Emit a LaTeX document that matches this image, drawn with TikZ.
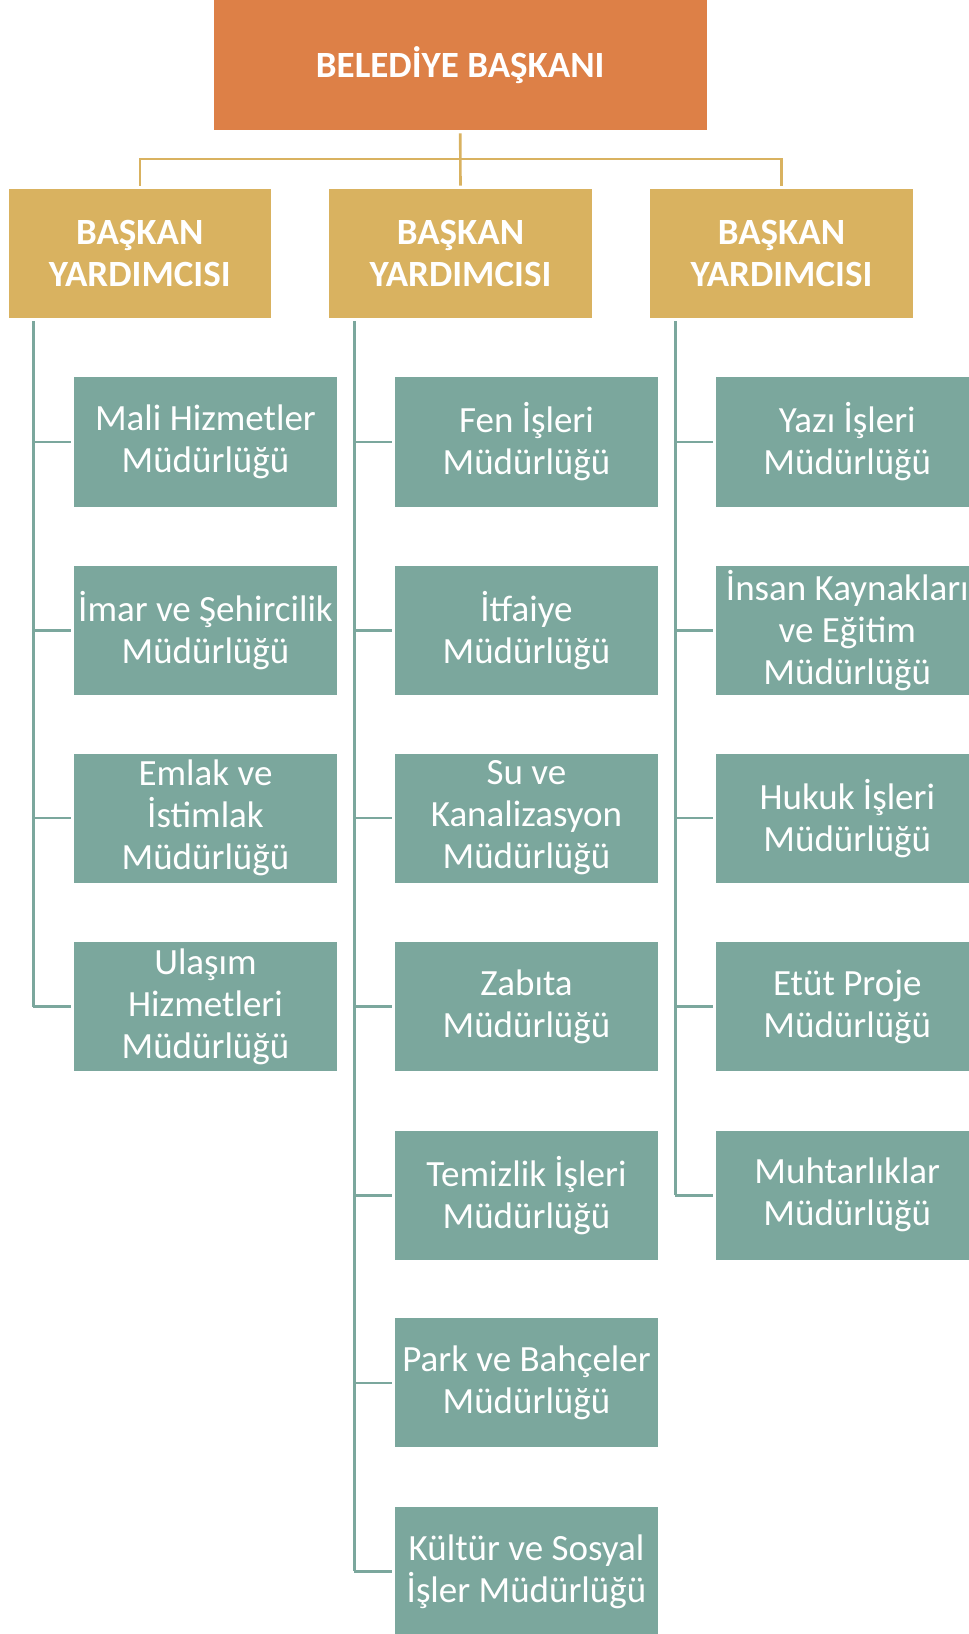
\documentclass[tikz,border=0pt]{standalone}
\usepackage{fontspec}
\setmainfont{Carlito}
\definecolor{cOrange}{HTML}{DD8047}
\definecolor{cGold}{HTML}{D9B260}
\definecolor{cTeal}{HTML}{7BA79D}
\begin{document}
\begin{tikzpicture}[x=1pt,y=-1pt,
  basebox/.style={rectangle, inner sep=0pt, anchor=north west, align=center, text=white},
  topbox/.style={basebox, fill=cOrange, minimum width=492.8pt, minimum height=130pt, font=\bfseries\fontsize{37}{42}\selectfont},
  vpbox/.style={basebox, fill=cGold, minimum width=262.6pt, minimum height=129.2pt, font=\bfseries\fontsize{37}{42}\selectfont},
  depbox/.style={basebox, fill=cTeal, minimum width=262.6pt, minimum height=129.2pt, font=\fontsize{37}{42}\selectfont},
  goldline/.style={draw=cGold, line width=2.6pt},
  tealline/.style={draw=cTeal, line width=2.6pt},
]
\useasboundingbox (0,0) rectangle (969,1634);
\clip (0,0) rectangle (969,1634);
\fill[white] (0,0) rectangle (969,1634);

% top
\node[topbox] (top) at (213.6,0) {BELEDİYE BAŞKANI};

% vice presidents
\node[vpbox] (vp1) at (8.3,188.6) {BAŞKAN\\YARDIMCISI};
\node[vpbox] (vp2) at (329,188.6) {BAŞKAN\\YARDIMCISI};
\node[vpbox] (vp3) at (650,188.6) {BAŞKAN\\YARDIMCISI};

% gold connectors
\coordinate (bus) at ([yshift=-28.4pt]top.south);
\draw[goldline] ([yshift=-3pt]top.south) -- ([yshift=3pt]vp2.north);
\draw[goldline] ([yshift=3pt]vp1.north) |- (bus) -| ([yshift=3pt]vp3.north);

% column 1
\node[depbox] (a1) at (74,377.2) {Mali Hizmetler\\Müdürlüğü};
\node[depbox] (a2) at (74,565.7) {İmar ve Şehircilik\\Müdürlüğü};
\node[depbox] (a3) at (74,753.3) {Emlak ve\\İstimlak\\Müdürlüğü};
\node[depbox] (a4) at (74,941.9) {Ulaşım\\Hizmetleri\\Müdürlüğü};

% column 2
\node[depbox] (b1) at (395,377.2) {Fen İşleri\\Müdürlüğü};
\node[depbox] (b2) at (395,565.7) {İtfaiye\\Müdürlüğü};
\node[depbox] (b3) at (395,753.3) {Su ve\\Kanalizasyon\\Müdürlüğü};
\node[depbox] (b4) at (395,941.9) {Zabıta\\Müdürlüğü};
\node[depbox] (b5) at (395,1130.5) {Temizlik İşleri\\Müdürlüğü};
\node[depbox] (b6) at (395,1318) {Park ve Bahçeler\\Müdürlüğü};
\node[depbox] (b7) at (395,1506.6) {Kültür ve Sosyal\\İşler Müdürlüğü};

% column 3
\node[depbox] (c1) at (715.8,377.2) {Yazı İşleri\\Müdürlüğü};
\node[depbox] (c2) at (715.8,565.7) {İnsan Kaynakları\\ve Eğitim\\Müdürlüğü};
\node[depbox] (c3) at (715.8,753.3) {Hukuk İşleri\\Müdürlüğü};
\node[depbox] (c4) at (715.8,941.9) {Etüt Proje\\Müdürlüğü};
\node[depbox] (c5) at (715.8,1130.5) {Muhtarlıklar\\Müdürlüğü};

% teal connectors
\coordinate (s1) at ([xshift=25pt,yshift=-3pt]vp1.south west);
\coordinate (s2) at ([xshift=25.3pt,yshift=-3pt]vp2.south west);
\coordinate (s3) at ([xshift=25.2pt,yshift=-3pt]vp3.south west);

\foreach \n in {a1,a2,a3,a4}{
  \draw[tealline] (s1 |- \n.west) -- ([xshift=-3pt]\n.west);
}
\draw[tealline] (s1) -- (s1 |- a4.west);

\foreach \n in {b1,b2,b3,b4,b5,b6,b7}{
  \draw[tealline] (s2 |- \n.west) -- ([xshift=-3pt]\n.west);
}
\draw[tealline] (s2) -- (s2 |- b7.west);

\foreach \n in {c1,c2,c3,c4,c5}{
  \draw[tealline] (s3 |- \n.west) -- ([xshift=-3pt]\n.west);
}
\draw[tealline] (s3) -- (s3 |- c5.west);
\end{tikzpicture}
\end{document}
